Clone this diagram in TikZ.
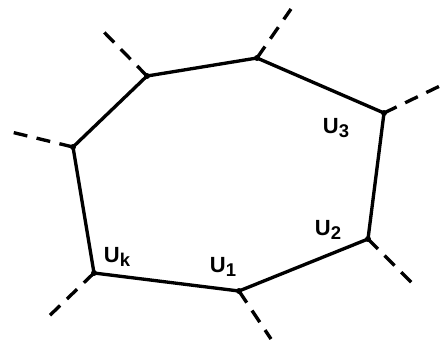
\documentclass[tikz,border=0pt]{standalone}
\usepackage{fontspec}
\setmainfont{Liberation Sans}
\newcommand{\lbsub}[1]{\raisebox{-0.32ex}{\fontsize{10.5}{12}\selectfont #1}}
\begin{document}
\begin{tikzpicture}[x=0.02cm,y=-0.02cm,
  edge/.style={line width=1.9pt,line join=round},
  ext/.style={line width=1.9pt,dash pattern=on 0.28cm off 0.19cm},
  vtx/.style={circle,fill=black,inner sep=0pt,minimum size=3.4pt},
  lab/.style={font=\fontsize{12.5}{14}\selectfont\bfseries,inner sep=0pt}]
\useasboundingbox (0,0) rectangle (444,339);
\node[vtx] (a) at (147,76) {};
\node[vtx] (b) at (73,147) {};
\node[vtx] (c) at (257,58) {};
\node[vtx] (d) at (384,113) {};
\node[vtx] (e) at (368,239) {};
\node[vtx] (f) at (239,291) {};
\node[vtx] (g) at (94,273) {};
\coordinate (ax) at (100,28);
\coordinate (bx) at (7,131);
\coordinate (cx) at (291,9);
\coordinate (dx) at (444,84);
\coordinate (ex) at (416,287);
\coordinate (fx) at (271,339);
\coordinate (gx) at (45,320);
\draw[edge] (a.center) -- (c.center) -- (d.center) -- (e.center) -- (f.center) -- (g.center) -- (b.center) -- cycle;
\draw[ext] (a.center) -- (ax);
\draw[ext] (b.center) -- (bx);
\draw[ext] (c.center) -- (cx);
\draw[ext] (d.center) -- (dx);
\draw[ext] (e.center) -- (ex);
\draw[ext] (f.center) -- (fx);
\draw[ext] (g.center) -- (gx);
\node[lab] (l3) at (336,128) {U\lbsub{3}};
\node[lab] (l2) at (328,230) {U\lbsub{2}};
\node[lab] (l1) at (223,267) {U\lbsub{1}};
\node[lab] (lk) at (117,257) {U\lbsub{k}};
\end{tikzpicture}
\end{document}
